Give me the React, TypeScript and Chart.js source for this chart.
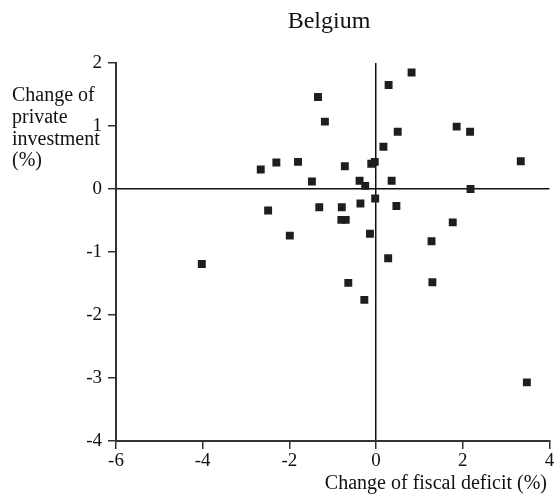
import React, { useEffect, useRef } from "react";
import { Chart, registerables } from "chart.js";

Chart.register(...registerables);

const titleText = "Belgium";
const xAxisTitle = "Change of fiscal deficit (%)";
const yAxisTitleLines = ["Change of", "private", "investment", "(%)"];

const xValues = [
  0.82, 0.29, -1.34, -1.18, 0.5, 1.86, 2.17, 0.17, 3.34, -0.03,
  -0.11, -0.72, -2.66, -2.3, -1.8, -1.48, -0.38, -0.25, 0.36, 2.18,
  -0.02, -2.49, -1.31, -0.79, -0.36, 0.47, -0.8, -0.7, 1.77, -0.14,
  -1.99, 1.28, 0.28, -4.02, 1.3, -0.64, -0.27, 3.48,
];
const yValues = [
  1.85, 1.65, 1.46, 1.07, 0.91, 0.99, 0.91, 0.67, 0.44, 0.43,
  0.4, 0.36, 0.31, 0.42, 0.43, 0.12, 0.13, 0.05, 0.13, 0.0,
  -0.15, -0.34, -0.29, -0.29, -0.23, -0.27, -0.49, -0.49, -0.53, -0.71,
  -0.74, -0.83, -1.1, -1.19, -1.48, -1.49, -1.76, -3.07,
];

const FONT = "'Liberation Serif', 'Times New Roman', serif";

const labelsPlugin = {
  id: "customLabels",
  afterDraw(chart: any) {
    const ctx = chart.ctx;
    ctx.save();
    ctx.fillStyle = "#111";
    ctx.textBaseline = "alphabetic";
    ctx.font = `24px ${FONT}`;
    ctx.textAlign = "center";
    ctx.fillText(titleText, 329, 28);
    ctx.font = `20px ${FONT}`;
    ctx.textAlign = "left";
    const baselines = [101, 123, 145, 166];
    yAxisTitleLines.forEach((t, i) => ctx.fillText(t, 12, baselines[i]));
    ctx.textAlign = "right";
    ctx.fillText(xAxisTitle, 547, 489);
    ctx.restore();
  },
};

export default function App() {
  const ref = useRef<HTMLCanvasElement>(null);
  useEffect(() => {
    if (!ref.current) return;
    const points = xValues.map((x, i) => ({ x, y: yValues[i] }));
    const zeroColor = (c: any) => (c.tick && c.tick.value === 0 ? "#111" : "rgba(0,0,0,0)");
    const chart = new Chart(ref.current, {
      type: "scatter",
      data: {
        datasets: [
          {
            data: points,
            pointStyle: "rect",
            pointRadius: 5.6,
            pointBorderWidth: 0,
            backgroundColor: "#1e1e1e",
            borderColor: "#1e1e1e",
          },
        ],
      },
      options: {
        animation: false,
        responsive: false,
        layout: { padding: { left: 0, top: 63, right: 4, bottom: 0 } },
        plugins: { legend: { display: false }, tooltip: { enabled: false }, title: { display: false } },
        scales: {
          x: {
            type: "linear",
            min: -6,
            max: 4,
            afterFit: (s: any) => {
              s.height = 63;
              s.paddingRight = 0;
              s.paddingLeft = 0;
            },
            ticks: {
              stepSize: 2,
              color: "#111",
              padding: 1,
              font: { family: FONT, size: 19 },
              maxRotation: 0,
            },
            grid: {
              color: zeroColor,
              lineWidth: 1.5,
              tickColor: "#333",
              tickLength: 8,
              tickWidth: 1.5,
            },
            border: { display: true, color: "#333", width: 2 },
          },
          y: {
            type: "linear",
            min: -4,
            max: 2,
            afterFit: (s: any) => {
              s.width = 116;
              s.paddingTop = 0;
              s.paddingBottom = 0;
            },
            ticks: {
              stepSize: 1,
              color: "#111",
              padding: 6,
              font: { family: FONT, size: 19 },
            },
            grid: {
              color: zeroColor,
              lineWidth: 1.5,
              tickColor: "#333",
              tickLength: 8,
              tickWidth: 1.5,
            },
            border: { display: true, color: "#333", width: 2 },
          },
        },
      },
      plugins: [labelsPlugin],
    });
    return () => chart.destroy();
  }, []);
  return (
    <div style={{ position: "absolute", left: 0, top: 0, width: 555, height: 504, background: "#fff" }}>
      <canvas ref={ref} width={555} height={504} style={{ display: "block" }} />
    </div>
  );
}
